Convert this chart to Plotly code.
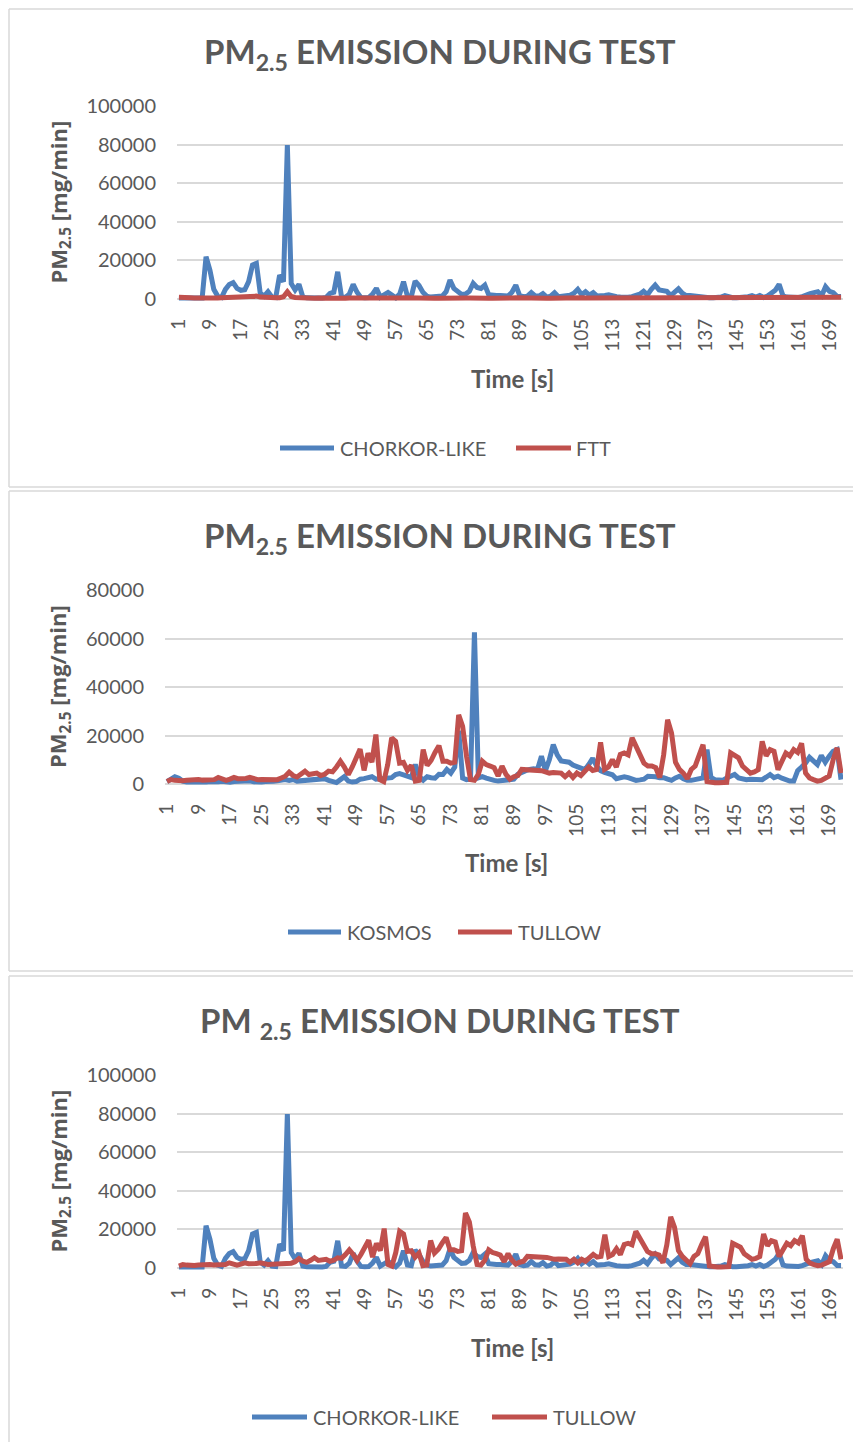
import plotly.graph_objects as go

# ---------------- data ----------------
time_s = list(range(1, 173))
x_tick_labels = [1, 9, 17, 25, 33, 41, 49, 57, 65, 73, 81, 89, 97, 105, 113,
                 121, 129, 137, 145, 153, 161, 169]
y_ticks_100k = [0, 20000, 40000, 60000, 80000, 100000]
y_ticks_80k = [0, 20000, 40000, 60000, 80000]

chorkor_like = [
    500, 400, 300, 300, 300, 300, 500, 21900, 15000, 5000,
    1500, 800, 5000, 7500, 8500, 5500, 4500, 4800, 9000, 17600,
    18500, 3000, 1500, 3800, 1000, 800, 12400, 9000, 79800, 8000,
    4700, 7600, 1000, 600, 500, 500, 500, 500, 800, 2900,
    3500, 14100, 1000, 800, 2500, 7600, 3500, 800, 600, 700,
    2500, 5500, 1000, 2000, 3400, 2000, 600, 2500, 9000, 1500,
    1200, 9300, 7000, 3500, 1500, 1000, 1000, 1000, 1500, 3800,
    9800, 5500, 3500, 2400, 2600, 4000, 8100, 6000, 5500, 7200,
    2200, 1800, 1800, 1800, 1800, 1500, 3500, 7200, 1800, 1200,
    1500, 3300, 1600, 1500, 2800, 1000, 1500, 3300, 1200, 1500,
    1800, 2000, 3000, 5000, 2200, 3800, 2000, 3300, 1500, 1500,
    1800, 2200, 1500, 1200, 1000, 800, 900, 1200, 1800, 2500,
    4000, 2200, 5000, 7200, 4700, 4200, 4000, 1800, 3500, 5300,
    3000, 1800, 1800, 1500, 1200, 900, 600, 600, 700, 800,
    1000, 1800, 1000, 700, 600, 600, 800, 1200, 1800, 1000,
    1800, 800, 1500, 3300, 4500, 7600, 1600, 1000, 800, 700,
    800, 1200, 2200, 2800, 3300, 3800, 1800, 6400, 4000, 3300,
    1300, 1300,
]

ftt = [
    900, 1000, 800, 600, 500, 400, 500, 400, 500, 600,
    500, 600, 700, 800, 700, 600, 800, 900, 1100, 1600,
    1500, 1000, 800, 700, 700, 600, 700, 1200, 3800, 1300,
    800, 600, 500, 500, 400, 400, 500, 400, 400, 500,
    500, 600, 400, 400, 500, 400, 400, 300, 400, 400,
    500, 500, 400, 400, 500, 400, 400, 500, 600, 500,
    400, 500, 500, 400, 400, 300, 400, 400, 500, 500,
    600, 500, 400, 400, 500, 500, 600, 500, 400, 500,
    400, 400, 300, 400, 400, 500, 500, 600, 500, 400,
    400, 500, 400, 400, 500, 400, 400, 500, 400, 400,
    500, 500, 600, 700, 600, 500, 500, 600, 500, 400,
    400, 500, 400, 400, 300, 400, 400, 500, 400, 500,
    600, 500, 600, 700, 600, 500, 500, 400, 500, 600,
    500, 400, 400, 300, 400, 400, 300, 300, 400, 400,
    300, 400, 400, 300, 300, 400, 400, 500, 400, 400,
    500, 400, 400, 500, 600, 700, 500, 400, 400, 500,
    400, 500, 500, 600, 500, 600, 500, 700, 600, 500,
    800, 900,
]

kosmos = [
    1000, 2000, 3000, 2400, 1200, 800, 700, 900, 700, 600,
    800, 1000, 700, 900, 1100, 800, 700, 1000, 1200, 900,
    1100, 1300, 900, 700, 800, 1000, 900, 1100, 1300, 1500,
    1850, 1500, 1850, 1200, 1400, 1600, 1300, 1500, 1800, 2000,
    2200, 1500, 800, 600, 1800, 3000, 1200, 800, 1000, 2000,
    2200, 2800, 3000, 2000, 2200, 2400, 2300, 2600, 3900, 4300,
    3800, 3300, 2700, 8000, 3000, 1600, 3000, 2600, 2400, 4000,
    3900, 6000, 4500, 7000, 22000, 2500, 1800, 2000, 62500, 2500,
    3000, 2400, 1800, 1500, 1200, 1400, 1600, 1500, 2000, 4000,
    4900, 5500, 6000, 6300, 6000, 11500, 5500, 10000, 16200, 12000,
    9500, 9000, 9000, 7800, 7000, 6500, 5900, 8000, 10600, 7400,
    5500, 4800, 4200, 3800, 2200, 2600, 3000, 2600, 1800, 1500,
    1700, 2000, 3200, 3300, 3000, 2600, 2600, 2000, 1500, 2500,
    3200, 2200, 1500, 1500, 1700, 2000, 2500, 14200, 2700, 1800,
    1600, 1500, 2500, 3500, 3900, 2500, 2000, 1800, 2000, 1800,
    1500, 1800, 2800, 3900, 2600, 3200, 2400, 1800, 1200, 1200,
    5500, 7000, 8600, 11000, 9500, 8000, 11700, 9000, 11500, 13500,
    14200, 1800,
]

tullow = [
    1000, 1800, 1500, 1200, 1300, 1500, 1700, 1400, 1850, 1600,
    1800, 2000, 1800, 2700, 2200, 1500, 2000, 2700, 2200, 2000,
    2300, 2700, 2000, 1800, 1900, 2000, 1800, 1800, 1800, 2500,
    3200, 4900, 3500, 2900, 4000, 5300, 3900, 4200, 4500, 3500,
    4000, 5300, 5000, 7000, 9400, 7000, 3900, 7000, 11400, 14400,
    5600, 12700, 9000, 20400, 1800, 1000, 8000, 19000, 17600, 8600,
    8900, 5600, 7700, 1200, 1500, 14200, 7700, 9700, 13000, 15800,
    9400, 9400, 8600, 9000, 28500, 23800, 11400, 1800, 1500, 4000,
    9400, 8000, 7400, 6700, 3300, 7400, 4000, 2000, 3000, 3500,
    6000, 6000, 5800, 5500, 5500, 5500, 5000, 4500, 4700, 4500,
    4500, 3000, 4500, 2700, 4500, 3500, 5000, 7000, 5600, 6000,
    17200, 6000, 7000, 10000, 7000, 12200, 12800, 12000, 19000, 15600,
    12000, 8600, 7400, 7400, 6700, 2700, 12000, 26500, 21000, 9000,
    6000, 4500, 2200, 6000, 7400, 12200, 16200, 1000, 500, 500,
    500, 600, 700, 12800, 11800, 10800, 7400, 6000, 4500, 5000,
    5900, 17600, 11600, 14200, 13500, 5900, 9000, 12800, 11600, 14200,
    13000, 16800, 4500, 2500, 1800, 1200, 1500, 2500, 3300, 10000,
    14900, 4500,
]

# ---------------- styling ----------------
# The page body has an 8px margin, so the figure is sized to fit the
# 861x1450 window exactly; positions below are given in window pixels.
PAGE_MARGIN = 8
W, H = 861 - 2 * PAGE_MARGIN, 1450 - 2 * PAGE_MARGIN
BLUE = "#4F81BD"
RED = "#C0504D"
GRAY_TXT = "#595959"
GRID = "#D9D9D9"
FONT = "Lato"


def fx(px):
    return min(max((px - PAGE_MARGIN) / W, 0.0), 1.0)


def fy(py):
    return min(max(1 - (py - PAGE_MARGIN) / H, 0.0), 1.0)


panels = [
    dict(off=0, left=177, top=106, bottom=299, ymax=100000, yticks=y_ticks_100k,
         series=[("CHORKOR-LIKE", chorkor_like, BLUE), ("FTT", ftt, RED)],
         title="PM<sub>2.5</sub> EMISSION DURING TEST",
         legend=[(280, 334, 338), (516, 571, 574)]),
    dict(off=484, left=165, top=590, bottom=784, ymax=80000, yticks=y_ticks_80k,
         series=[("KOSMOS", kosmos, BLUE), ("TULLOW", tullow, RED)],
         title="PM<sub>2.5</sub> EMISSION DURING TEST",
         legend=[(288, 341, 345), (458, 512, 516)]),
    dict(off=969, left=177, top=1075, bottom=1268, ymax=100000, yticks=y_ticks_100k,
         series=[("CHORKOR-LIKE", chorkor_like, BLUE), ("TULLOW", tullow, RED)],
         title="PM <sub>2.5</sub> EMISSION DURING TEST",
         legend=[(252, 307, 311), (492, 547, 551)]),
]

fig = go.Figure()
shapes = []
annotations = []
layout_axes = {}

# panel frames: (top, bottom or None) in window pixels
panel_frames = [(9, 487), (491, 971), (976, None)]
FRAME_LEFT = 9


def frame_line(x0, y0, x1, y1):
    return dict(type="line", xref="paper", yref="paper",
                x0=fx(x0), x1=fx(x1), y0=fy(y0), y1=fy(y1),
                line=dict(color=GRID, width=1.5), layer="below")


for k, p in enumerate(panels):
    n = "" if k == 0 else str(k + 1)
    xa, ya = "x" + n, "y" + n
    pad = 3
    vpp = p["ymax"] / (p["bottom"] - p["top"])
    layout_axes["xaxis" + n] = dict(
        domain=[fx(p["left"]), fx(843)],
        range=[0.5, 172.5],
        anchor=ya,
        automargin=False,
        tickmode="array",
        tickvals=x_tick_labels,
        ticktext=[str(v) for v in x_tick_labels],
        tickangle=-90,
        tickfont=dict(family=FONT, size=19, color=GRAY_TXT),
        showgrid=False,
        zeroline=False,
        showline=False,
        ticks="",
        ticklabelstandoff=12,
    )
    layout_axes["yaxis" + n] = dict(
        domain=[fy(p["bottom"] + pad), fy(p["top"])],
        range=[-pad * vpp, p["ymax"]],
        anchor=xa,
        automargin=False,
        tickmode="array",
        tickvals=p["yticks"],
        ticktext=[str(v) for v in p["yticks"]],
        tickfont=dict(family=FONT, size=20, color=GRAY_TXT),
        showgrid=True,
        gridcolor=GRID,
        gridwidth=2,
        zeroline=False,
        showline=False,
        ticks="",
        ticklabelstandoff=20,
    )
    for name, vals, color in p["series"]:
        fig.add_trace(go.Scatter(
            x=time_s, y=vals, mode="lines", name=name,
            line=dict(color=color, width=5),
            xaxis=xa, yaxis=ya, showlegend=False,
        ))

    # panel frame (stays inside the figure)
    top, bottom = panel_frames[k]
    shapes.append(frame_line(FRAME_LEFT, top, 861, top))
    if bottom is not None:
        shapes.append(frame_line(FRAME_LEFT, bottom, 861, bottom))
        shapes.append(frame_line(FRAME_LEFT, top, FRAME_LEFT, bottom))
    else:
        shapes.append(frame_line(FRAME_LEFT, top, FRAME_LEFT, 1450))

    off = p["off"]
    # title
    annotations.append(dict(text="<b>" + p["title"] + "</b>", xref="paper", yref="paper",
                            x=fx(440), y=fy(53 + off), xanchor="center", yanchor="middle",
                            showarrow=False,
                            font=dict(family=FONT, size=33, color=GRAY_TXT)))
    # y-axis title
    annotations.append(dict(text="<b>PM<sub>2.5</sub> [mg/min]</b>", xref="paper", yref="paper",
                            x=fx(59), y=fy((p["top"] + p["bottom"]) / 2),
                            xanchor="center", yanchor="middle", textangle=-90,
                            showarrow=False,
                            font=dict(family="Open Sans", size=22, color=GRAY_TXT)))
    # x-axis title
    annotations.append(dict(text="<b>Time [s]</b>", xref="paper", yref="paper",
                            x=fx((p["left"] + 843) / 2 + 2), y=fy(378 + off),
                            xanchor="center", yanchor="middle", showarrow=False,
                            font=dict(family=FONT, size=24, color=GRAY_TXT)))
    # legend
    ly = 448 + off
    for (x0, x1, tx), (name, vals, color) in zip(p["legend"], p["series"]):
        shapes.append(dict(type="line", xref="paper", yref="paper",
                           x0=fx(x0), x1=fx(x1), y0=fy(ly), y1=fy(ly),
                           line=dict(color=color, width=5)))
        annotations.append(dict(text=name, xref="paper", yref="paper",
                                x=fx(tx), y=fy(ly), xanchor="left", yanchor="middle",
                                showarrow=False,
                                font=dict(family=FONT, size=20, color=GRAY_TXT)))

fig.update_layout(
    width=W, height=H,
    margin=dict(l=0, r=0, t=0, b=0, autoexpand=False),
    paper_bgcolor="white",
    plot_bgcolor="white",
    showlegend=False,
    shapes=shapes,
    annotations=annotations,
    **layout_axes,
)

fig.write_html("out.html", config={"displayModeBar": False})
